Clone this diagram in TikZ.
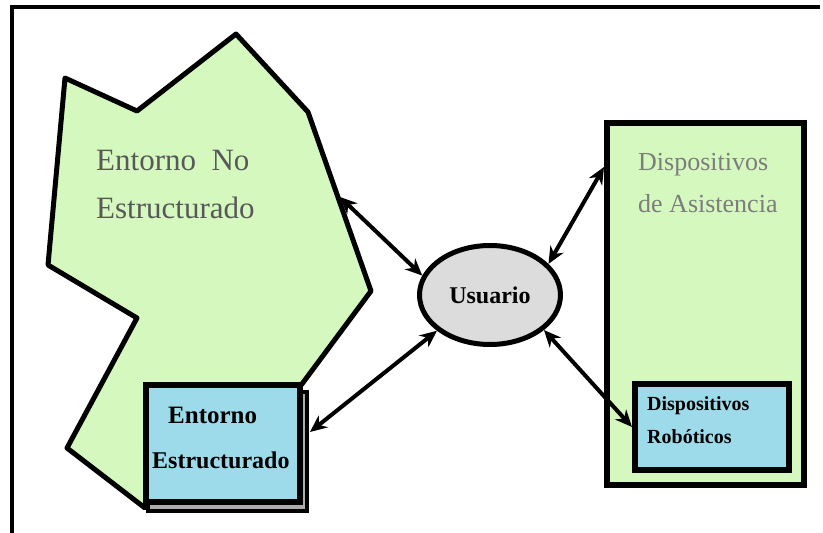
\documentclass[tikz,border=0pt]{standalone}
\usepackage{fontspec}
\setmainfont{Liberation Serif}
\usetikzlibrary{arrows.meta,shapes.geometric}
\definecolor{verdeclaro}{RGB}{212,248,190}
\definecolor{azulclaro}{RGB}{157,218,234}
\definecolor{grisusr}{RGB}{220,220,220}
\definecolor{textogris}{RGB}{88,88,88}
\definecolor{textoclaro}{RGB}{125,125,125}
\begin{document}
\begin{tikzpicture}[x=1pt,y=-1pt,
	caja/.style={draw,line width=6pt,inner sep=0pt},
	flecha/.style={line width=4pt,{Stealth[length=17pt,width=15pt]}-{Stealth[length=17pt,width=15pt]}},
	rotulo/.style={anchor=base west,inner sep=0pt}]
	\useasboundingbox (0,0) rectangle (823,533);
	%\draw[step=50,very thin,color=gray] (0,0) grid (823,533);
	\draw[line width=3.5pt] (12,533) -- (12,7) -- (820,7);
	% entorno no estructurado
	\draw[line width=5pt,line join=round,fill=verdeclaro] (65,78) -- (137,111) -- (236,34) -- (308,112) -- (371,291) -- (302,384) -- (145,508) -- (67,448) -- (137,318) -- (48,265) -- cycle;
	\node[rotulo,textogris,font=\fontsize{31}{37}\selectfont] (noest1) at (96,170) {Entorno\ \ No};
	\node[rotulo,textogris,font=\fontsize{31}{37}\selectfont] (noest2) at (96,218) {Estructurado};
	\coordinate (bordeno) at (340,197);
	% entorno estructurado
	\draw[line width=4pt,fill=gray!65] (148,392) rectangle (307,511);
	\node[caja,fill=azulclaro,minimum width=154pt,minimum height=117pt] (est) at (222.5,443) {};
	\node[rotulo,font=\bfseries\fontsize{25}{30}\selectfont] (est1) at (168,423) {Entorno};
	\node[rotulo,font=\bfseries\fontsize{24}{29}\selectfont] (est2) at (152,468) {Estructurado};
	\coordinate (bordeest) at (310,432);
	% usuario
	\node[ellipse,draw,line width=5pt,fill=grisusr,minimum width=141pt,minimum height=99pt,inner sep=0pt,font=\bfseries\fontsize{24}{28}\selectfont] (usr) at (490,295) {Usuario};
	% dispositivos
	\node[caja,fill=verdeclaro,minimum width=197pt,minimum height=362pt] (asist) at (705.5,304) {};
	\node[rotulo,textoclaro,font=\fontsize{26}{31}\selectfont] (asist1) at (638,170) {Dispositivos};
	\node[rotulo,textoclaro,font=\fontsize{26}{31}\selectfont] (asist2) at (638,212) {de Asistencia};
	\coordinate (bordeasist) at (604,167);
	\node[caja,fill=azulclaro,minimum width=154pt,minimum height=86pt] (robot) at (712,427) {};
	\node[rotulo,font=\bfseries\fontsize{20}{24}\selectfont] (robot1) at (647,410) {Dispositivos};
	\node[rotulo,font=\bfseries\fontsize{20}{24}\selectfont] (robot2) at (647,443) {Robóticos};
	% flechas
	\draw[flecha] (bordeno) -- (usr.164);
	\draw[flecha] (bordeest) -- (usr.214);
	\draw[flecha] (usr.28) -- (bordeasist);
	\draw[flecha] (usr.327) -- (robot.west);
\end{tikzpicture}
\end{document}
